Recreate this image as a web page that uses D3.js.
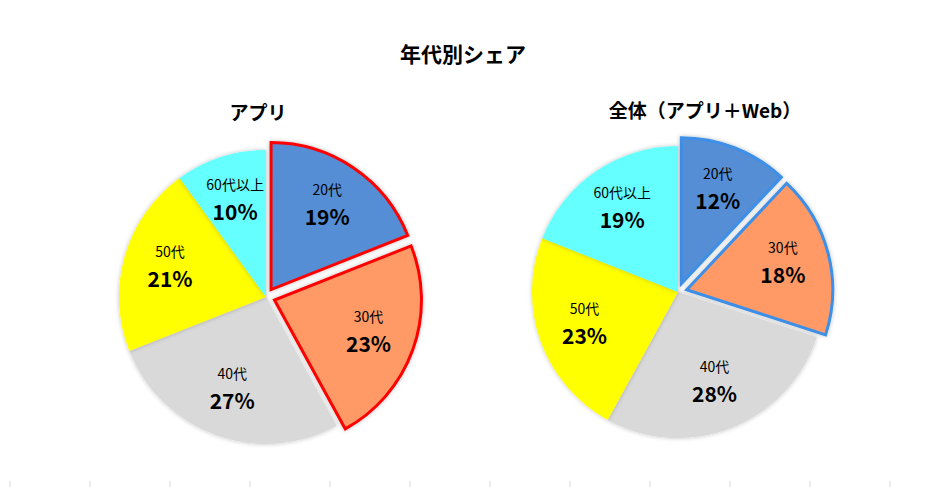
<!DOCTYPE html>
<html><head><meta charset="utf-8">
<script src="https://cdn.jsdelivr.net/npm/d3@7"></script>
<style>body{margin:0;background:#fff}text{font-family:"Noto Sans CJK JP","Noto Sans",sans-serif}</style>
</head><body>
<svg id="c" width="937" height="488"></svg>
<script>
const categories = ["20代","30代","40代","50代","60代以上"];
const appValues = [19,23,27,21,10];
const allValues = [12,18,28,23,19];
const colors = ["#558ED5","#FF9966","#D9D9D9","#FFFF00","#66FFFF"];
const title = "年代別シェア";
const subtitles = ["アプリ","全体（アプリ＋Web）"];
const exploded = [0,1];

const svg = d3.select("#c");
const defs = svg.append("defs");
const f = defs.append("filter").attr("id","sh").attr("x","-20%").attr("y","-20%").attr("width","140%").attr("height","140%");
f.append("feDropShadow").attr("dx",0).attr("dy",0).attr("stdDeviation",2).attr("flood-color","#000").attr("flood-opacity",0.25);

svg.append("text").attr("x",463).attr("y",62).attr("text-anchor","middle").attr("font-size",21).attr("font-weight","bold").text(title);

// bottom ticks
const tx = d3.scaleLinear().domain([0,11]).range([10,890]);
d3.range(12).forEach(i=>svg.append("line").attr("x1",tx(i)).attr("x2",tx(i)).attr("y1",481).attr("y2",487).attr("stroke","#d9d9d9"));

function drawPie(cx,cy,r,values,stroke,sub,subX,subY){
  svg.append("text").attr("x",subX).attr("y",subY).attr("text-anchor","middle").attr("font-size",19).attr("font-weight","bold").text(sub);
  const arcs = d3.pie().sort(null)(values);
  const arc = d3.arc().innerRadius(0).outerRadius(r);
  const g = svg.append("g").attr("transform",`translate(${cx},${cy})`);
  arcs.forEach((a,i)=>{
    const mid=(a.startAngle+a.endAngle)/2;
    const off = exploded.includes(i)?9:0;
    const dx=Math.sin(mid)*off, dy=-Math.cos(mid)*off;
    const gg=g.append("g").attr("transform",`translate(${dx},${dy})`);
    gg.append("path").attr("d",arc(a)).attr("fill",colors[i]).attr("filter","url(#sh)")
      .attr("stroke",exploded.includes(i)?stroke:"none").attr("stroke-width",3).attr("stroke-linejoin","miter");
    const lr=r*0.68;
    const lx=Math.sin(mid)*lr, ly=-Math.cos(mid)*lr;
    gg.append("text").attr("x",lx).attr("y",ly-12).attr("text-anchor","middle").attr("font-size",14).text(categories[i]);
    gg.append("text").attr("x",lx).attr("y",ly+18).attr("text-anchor","middle").attr("font-size",21).attr("font-weight","bold").text(values[i]+"%");
  });
}
drawPie(266,297,147,appValues,"#FF0000",subtitles[0],258,120);
drawPie(678,292,146,allValues,"#3D8FE8",subtitles[1],705,118);
</script></body></html>
